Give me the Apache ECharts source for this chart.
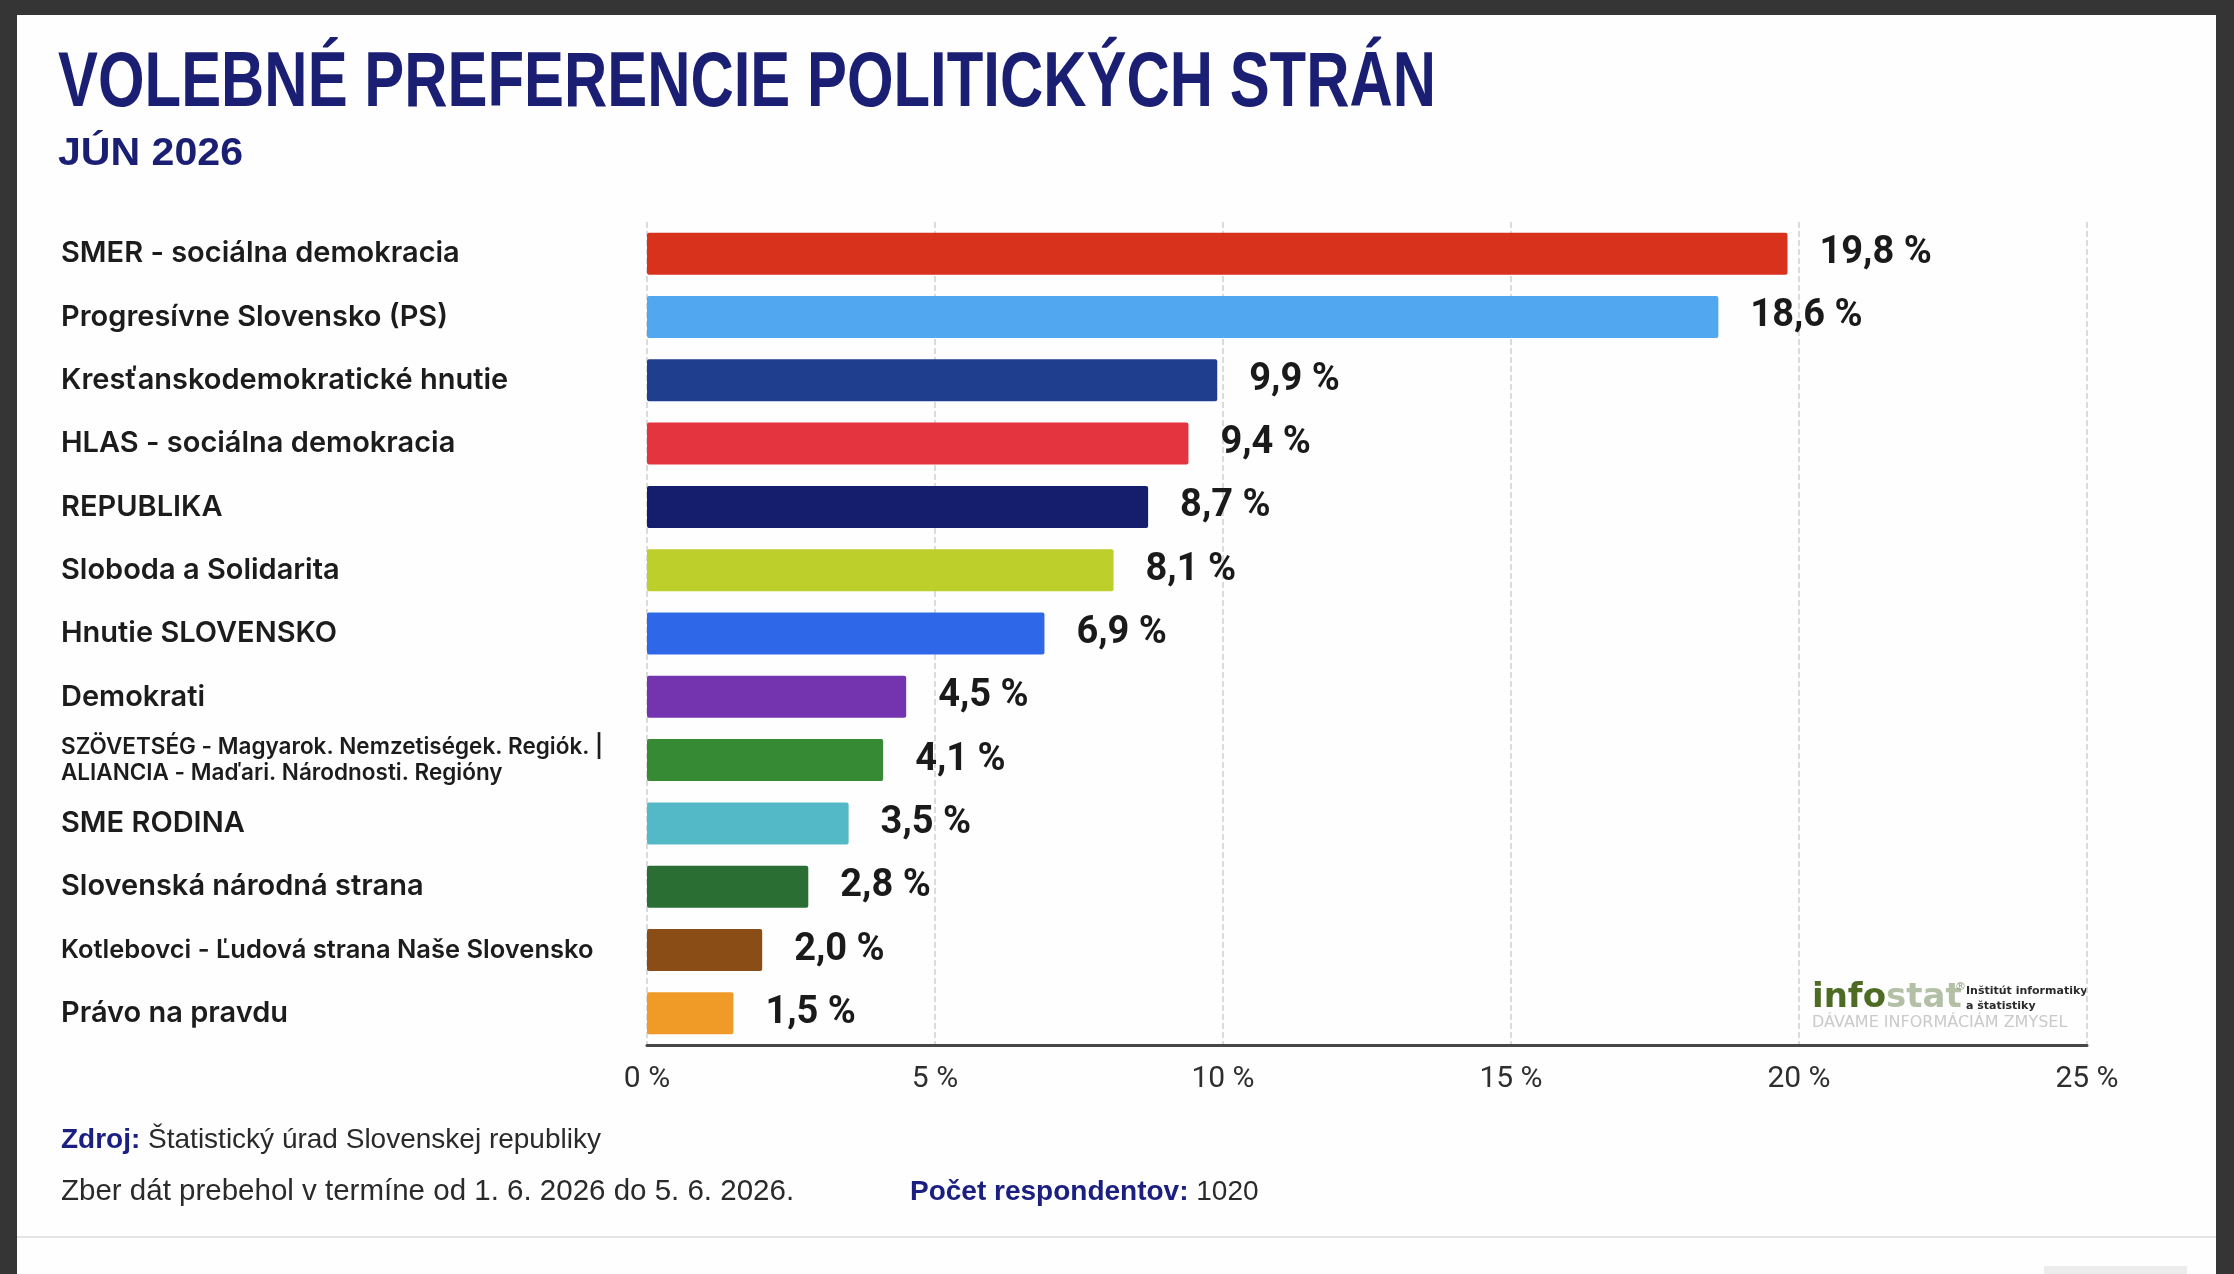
<!DOCTYPE html>
<html>
<head>
<meta charset="utf-8">
<script src="https://cdn.jsdelivr.net/npm/echarts@6/dist/echarts.min.js"></script>
<style>
  html, body { margin: 0; padding: 0; background: #353535; }
  #card { position: absolute; left: 17px; top: 15px; width: 2199px; height: 1259px; background: #fefefe; }
  #sep { position: absolute; left: 17px; top: 1236px; width: 2199px; height: 2px; background: #e4e4e4; }
  #tab { position: absolute; left: 2044px; top: 1266px; width: 143px; height: 8px; background: #ececec; }
  #chart { position: absolute; left: 0; top: 0; width: 2234px; height: 1274px; }
</style>
</head>
<body>
<div id="card"></div>
<div id="sep"></div>
<div id="tab"></div>
<div id="chart"></div>
<script>
  // party names, top to bottom
  var parties = [
    "SMER - sociálna demokracia",
    "Progresívne Slovensko (PS)",
    "Kresťanskodemokratické hnutie",
    "HLAS - sociálna demokracia",
    "REPUBLIKA",
    "Sloboda a Solidarita",
    "Hnutie SLOVENSKO",
    "Demokrati",
    "SZÖVETSÉG - Magyarok. Nemzetiségek. Regiók. |\nALIANCIA - Maďari. Národnosti. Regióny",
    "SME RODINA",
    "Slovenská národná strana",
    "Kotlebovci - Ľudová strana Naše Slovensko",
    "Právo na pravdu"
  ];
  var values = [19.8, 18.6, 9.9, 9.4, 8.7, 8.1, 6.9, 4.5, 4.1, 3.5, 2.8, 2.0, 1.5];
  var colors = [
    "#d8321d", "#52a8f0", "#1f3f8e", "#e4343f", "#151e6d", "#bccf2a", "#2e68e8",
    "#7434b0", "#378a34", "#54b9c7", "#2a6e34", "#8a4d16", "#f09a28"
  ];
  var axisMin = 0;
  var axisMax = 25;
  var axisStep = 5;

  var titleText = "VOLEBNÉ PREFERENCIE POLITICKÝCH STRÁN";
  var subTitleText = "JÚN 2026";

  function fitScale(text, font, target) {
    var ctx = document.createElement("canvas").getContext("2d");
    ctx.font = font;
    return target / ctx.measureText(text).width;
  }

  var titleFont = "bold 78px 'Liberation Sans'";
  var subFont = "bold 38px 'Liberation Sans'";
  var titleScale = fitScale(titleText, titleFont, 1378);
  var subScale = fitScale(subTitleText, subFont, 185);

  var chart = echarts.init(document.getElementById("chart"));

  chart.setOption({
    backgroundColor: "transparent",
    animation: false,
    grid: { left: 647, right: 147, top: 222, bottom: 229 },
    xAxis: {
      type: "value",
      min: axisMin,
      max: axisMax,
      interval: axisStep,
      axisLine: { show: true, lineStyle: { color: "#474747", width: 3 } },
      axisTick: { show: false },
      splitLine: { show: true, lineStyle: { color: "#cfcfcf", width: 1.5, type: "dashed" } },
      axisLabel: {
        margin: 19,
        color: "#2e2e2e",
        fontFamily: "Roboto",
        fontSize: 30,
        formatter: function (v) { return v + " %"; }
      }
    },
    yAxis: {
      type: "category",
      inverse: true,
      data: parties,
      axisLine: { show: false },
      axisTick: { show: false },
      axisLabel: {
        align: "left",
        margin: 586,
        color: "#1c1c1c",
        fontFamily: "Inter",
        fontWeight: 600,
        fontSize: 29,
        formatter: function (v) {
          if (v.indexOf("\n") >= 0) {
            return v.split("\n").map(function (l) { return "{s|" + l + "}"; }).join("\n");
          }
          if (v.length > 36) return "{k|" + v + "}";
          return v;
        },
        rich: {
          s: { fontFamily: "Inter", fontWeight: 600, fontSize: 22.5, lineHeight: 26, color: "#1c1c1c" },
          k: { fontFamily: "Inter", fontWeight: 600, fontSize: 25.5, color: "#1c1c1c" }
        }
      }
    },
    series: [
      {
        type: "bar",
        barWidth: 42,
        data: values.map(function (v, i) {
          return { value: v, itemStyle: { color: colors[i], borderRadius: 2 } };
        }),
        label: {
          show: true,
          position: "right",
          distance: 32,
          color: "#1a1a1a",
          fontFamily: "Roboto",
          fontWeight: "bold",
          fontSize: 38,
          formatter: function (p) { return p.value.toFixed(1).replace(".", ",") + " %"; }
        }
      }
    ],
    graphic: [
      {
        type: "text", x: 58, y: 84, scaleX: titleScale,
        style: { text: titleText, font: titleFont, fill: "#1b1f73", verticalAlign: "middle" }
      },
      {
        type: "text", x: 58, y: 155, scaleX: subScale,
        style: { text: subTitleText, font: subFont, fill: "#1b1f73", verticalAlign: "middle" }
      },
      {
        type: "text", x: 61, y: 1140,
        style: {
          text: "{b|Zdroj:}{n| Štatistický úrad Slovenskej republiky}",
          verticalAlign: "middle",
          rich: {
            b: { fontFamily: "Liberation Sans", fontWeight: "bold", fontSize: 28, fill: "#1b2080" },
            n: { fontFamily: "Liberation Sans", fontSize: 28, fill: "#2a2a2a" }
          }
        }
      },
      {
        type: "text", x: 61, y: 1192,
        style: {
          text: "Zber dát prebehol v termíne od 1. 6. 2026 do 5. 6. 2026.",
          font: "29.5px 'Liberation Sans'", fill: "#2a2a2a", verticalAlign: "middle"
        }
      },
      {
        type: "text", x: 910, y: 1192,
        style: {
          text: "{b|Počet respondentov:}{n| 1020}",
          verticalAlign: "middle",
          rich: {
            b: { fontFamily: "Liberation Sans", fontWeight: "bold", fontSize: 28, fill: "#1b2080" },
            n: { fontFamily: "Liberation Sans", fontSize: 28, fill: "#2a2a2a" }
          }
        }
      },
      // infostat logo
      {
        type: "text", x: 1812, y: 998,
        style: {
          text: "{a|info}{b|stat}",
          verticalAlign: "middle",
          rich: {
            a: { fontFamily: "DejaVu Sans", fontWeight: "bold", fontSize: 34, fill: "#4d6b22" },
            b: { fontFamily: "DejaVu Sans", fontWeight: "bold", fontSize: 34, fill: "#b3c0a6" }
          }
        }
      },
      {
        type: "text", x: 1955, y: 987,
        style: { text: "®", font: "11px 'DejaVu Sans'", fill: "#8a9a7a", verticalAlign: "middle" }
      },
      {
        type: "text", x: 1966, y: 991,
        style: { text: "Inštitút informatiky", font: "bold 11px 'DejaVu Sans'", fill: "#2a2a2a", verticalAlign: "middle" }
      },
      {
        type: "text", x: 1966, y: 1006,
        style: { text: "a štatistiky", font: "bold 11px 'DejaVu Sans'", fill: "#2a2a2a", verticalAlign: "middle" }
      },
      {
        type: "text", x: 1812, y: 1023,
        style: { text: "DÁVAME INFORMÁCIÁM ZMYSEL", font: "16px 'DejaVu Sans'", fill: "#cacaca", verticalAlign: "middle" }
      }
    ]
  });
</script>
</body>
</html>
